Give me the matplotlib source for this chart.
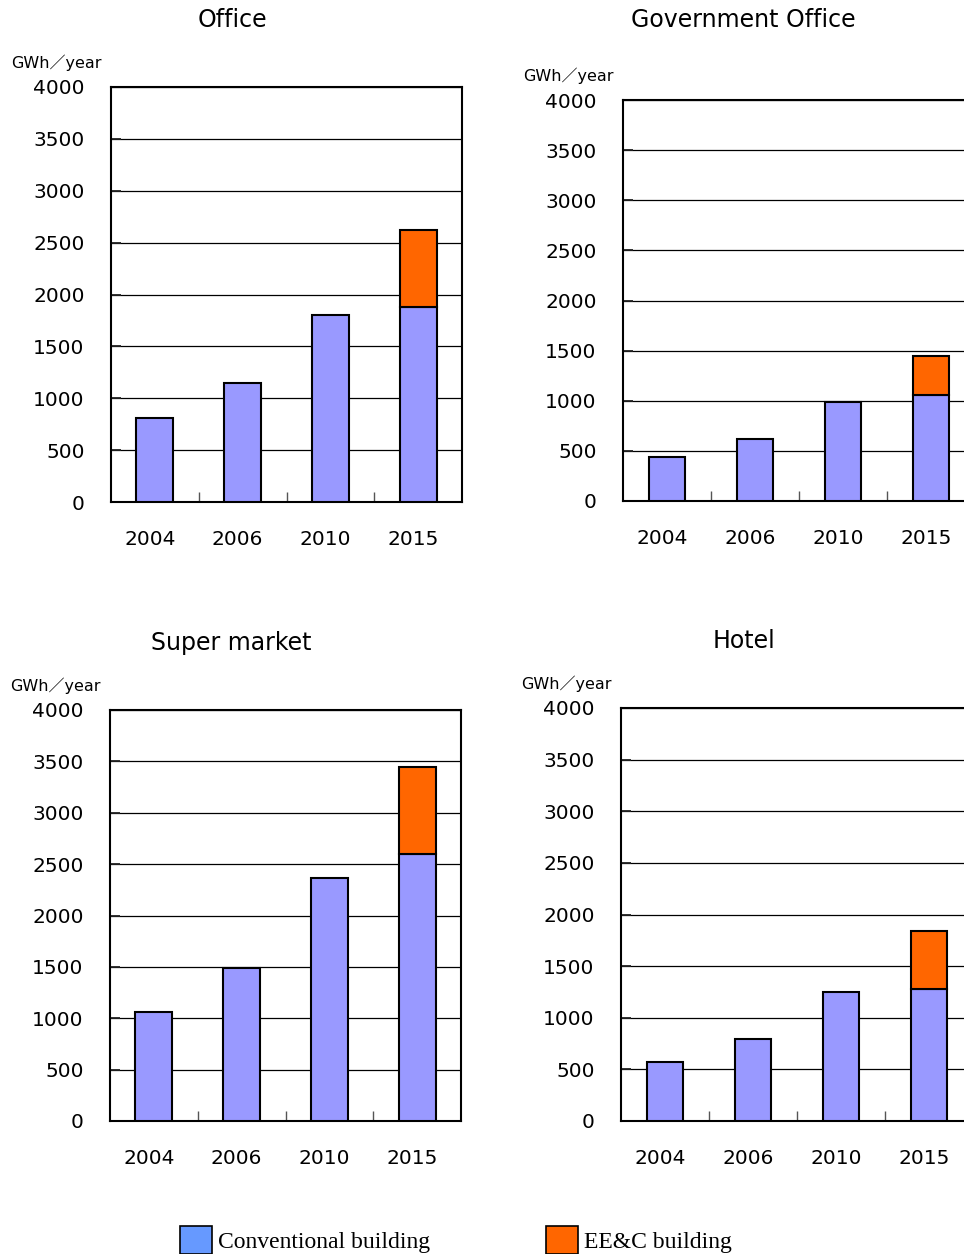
import matplotlib
matplotlib.use("Agg")
import matplotlib.pyplot as plt
from matplotlib.patches import Patch
from matplotlib.ticker import FixedLocator
from matplotlib.transforms import ScaledTranslation
import numpy as np

plt.rcParams['font.family'] = ['DejaVu Sans', 'Noto Sans CJK JP']

# ---- data -------------------------------------------------------------
years = ["2004", "2006", "2010", "2015"]

office_conv = [805, 1145, 1805, 1880]
office_eec = [0, 0, 0, 740]

gov_conv = [440, 620, 985, 1060]
gov_eec = [0, 0, 0, 390]

market_conv = [1060, 1490, 2365, 2600]
market_eec = [0, 0, 0, 850]

hotel_conv = [570, 790, 1250, 1280]
hotel_eec = [0, 0, 0, 560]

panel_titles = ["Office", "Government Office", "Super market", "Hotel"]
unit_label = "GWh／year"
legend_labels = ["Conventional building", "EE&C building"]
y_ticks = [0, 500, 1000, 1500, 2000, 2500, 3000, 3500, 4000]

# ---- style ------------------------------------------------------------
W, H = 964, 1254
BAR_BLUE = "#9999ff"
LEGEND_BLUE = "#6699ff"
ORANGE = "#ff6600"

fig = plt.figure(figsize=(W / 100, H / 100), dpi=100)


def frac_box(left, top, right, bottom):
    """Pixel box (origin top-left) -> figure-fraction rect."""
    return [left / W, 1 - bottom / H, (right - left) / W, (bottom - top) / H]


# axes boxes in pixels: left, top, right, bottom
boxes = [
    (111, 87, 462, 502),
    (623, 100, 975, 501),
    (110, 710, 461, 1121),
    (621, 708, 973, 1121),
]
title_pos = [(232, 20), (743, 20), (231, 643), (744, 641)]
series = [
    (office_conv, office_eec),
    (gov_conv, gov_eec),
    (market_conv, market_eec),
    (hotel_conv, hotel_eec),
]

x = np.arange(len(years))
label_shift = ScaledTranslation(-5 / 100, 0, fig.dpi_scale_trans)

for box, (conv, eec), title, tpos in zip(boxes, series, panel_titles, title_pos):
    ax = fig.add_axes(frac_box(*box))
    ax.bar(x, conv, width=0.42, color=BAR_BLUE, edgecolor="black",
           linewidth=1.5, zorder=3)
    top = ax.bar(x, eec, width=0.42, bottom=conv, color=ORANGE,
                 edgecolor="black", linewidth=1.5, zorder=3)
    for p in top:
        if p.get_height() == 0:
            p.set_visible(False)

    ax.set_xlim(-0.5, len(years) - 0.5)
    ax.set_ylim(0, 4000)
    ax.set_yticks(y_ticks)
    ax.set_yticklabels([str(v) for v in y_ticks], fontsize=14.5)
    ax.yaxis.grid(True, color="black", linewidth=0.9, zorder=0)
    ax.set_axisbelow(True)
    ax.tick_params(axis="y", direction="in", length=7, width=1.3,
                   color="#222222", pad=19)

    ax.set_xticks(x)
    ax.set_xticklabels(years, fontsize=14.5)
    ax.tick_params(axis="x", which="major", length=0, pad=20)
    ax.xaxis.set_minor_locator(FixedLocator(x[:-1] + 0.5))
    ax.tick_params(axis="x", which="minor", direction="in", length=7,
                   width=1, color="#555555")
    for lbl in ax.get_xticklabels():
        lbl.set_transform(lbl.get_transform() + label_shift)

    for s in ax.spines.values():
        s.set_linewidth(1.5)
        s.set_color("black")

    ax.annotate(unit_label, xy=(0, 1), xycoords="axes fraction",
                xytext=(-100, 24), textcoords="offset pixels",
                ha="left", va="center", fontsize=11.5)

    fig.text(tpos[0] / W, 1 - tpos[1] / H, title, ha="center",
             va="center", fontsize=17)

handles = [Patch(facecolor=LEGEND_BLUE, edgecolor="black", linewidth=1.2),
           Patch(facecolor=ORANGE, edgecolor="black", linewidth=1.2)]
fs = 17
em = fs * 100 / 72
fig.legend(handles, legend_labels, loc="center left",
           bbox_to_anchor=(180 / W, 1 - 1240 / H), ncol=2, frameon=False,
           prop={"family": "Liberation Serif", "size": fs},
           handlelength=32 / em, handleheight=34 / em,
           handletextpad=6 / em, columnspacing=116 / em,
           borderpad=0, borderaxespad=0)

fig.savefig("out.png", dpi=100)
